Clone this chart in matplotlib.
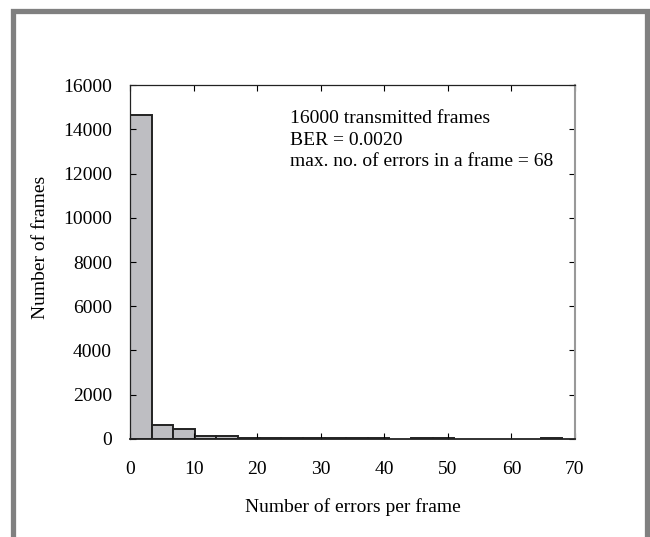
import numpy as np
import matplotlib
matplotlib.use('Agg')
import matplotlib.pyplot as plt
from matplotlib.patches import Rectangle

# histogram of errors per frame (20 bins over 0..68)
bin_edges = np.linspace(0, 68, 21)
frame_counts = [14640, 620, 440, 130, 120, 55, 50, 50, 45, 45,
                40, 40, 0, 50, 50, 0, 0, 0, 0, 50]
x_ticks = [0, 10, 20, 30, 40, 50, 60, 70]
y_ticks = [0, 2000, 4000, 6000, 8000, 10000, 12000, 14000, 16000]
info_lines = ["16000 transmitted frames",
              "BER = 0.0020",
              "max. no. of errors in a frame = 68"]

plt.rcParams['font.family'] = ['Liberation Serif', 'DejaVu Serif']
plt.rcParams['font.size'] = 14

fig = plt.figure(figsize=(6.5, 5.37), dpi=100)
ax = fig.add_axes([0.2, 0.1825, 0.6846, 0.6592])

counts = np.array(frame_counts)
lefts = bin_edges[:-1]
widths = np.diff(bin_edges)
nz = counts > 0
# empty bins are left out so only the axis line shows there
ax.bar(lefts[nz], counts[nz], width=widths[nz], align='edge',
       color='#bebec2', edgecolor='#222222', linewidth=1.4)

ax.set_xlim(0, 70)
ax.set_ylim(0, 16000)
ax.set_xticks(x_ticks)
ax.set_yticks(y_ticks)
ax.tick_params(direction='in', top=True, right=True, length=4, width=0.8)
ax.tick_params(axis='x', pad=16)
ax.tick_params(axis='y', pad=13)
for sp in ax.spines.values():
    sp.set_linewidth(0.9)
    sp.set_color('#222222')
ax.spines['bottom'].set_linewidth(1.3)
ax.spines['right'].set_color('#999999')
ax.spines['right'].set_linewidth(1.5)

ax.set_xlabel("Number of errors per frame", labelpad=14)
ax.set_ylabel("Number of frames")
ax.yaxis.set_label_coords(-0.182, 0.542)

ax.text(0.36, 0.928, "\n".join(info_lines), transform=ax.transAxes,
        va='top', ha='left', linespacing=1.32)

# gray page frame
fig.patches.append(Rectangle((12.5 / 650, -0.05), 634 / 650, 1.05 - 10.8 / 537,
                             transform=fig.transFigure, fill=False,
                             edgecolor='#808080', linewidth=3.8))

fig.savefig("out.png", dpi=100)
